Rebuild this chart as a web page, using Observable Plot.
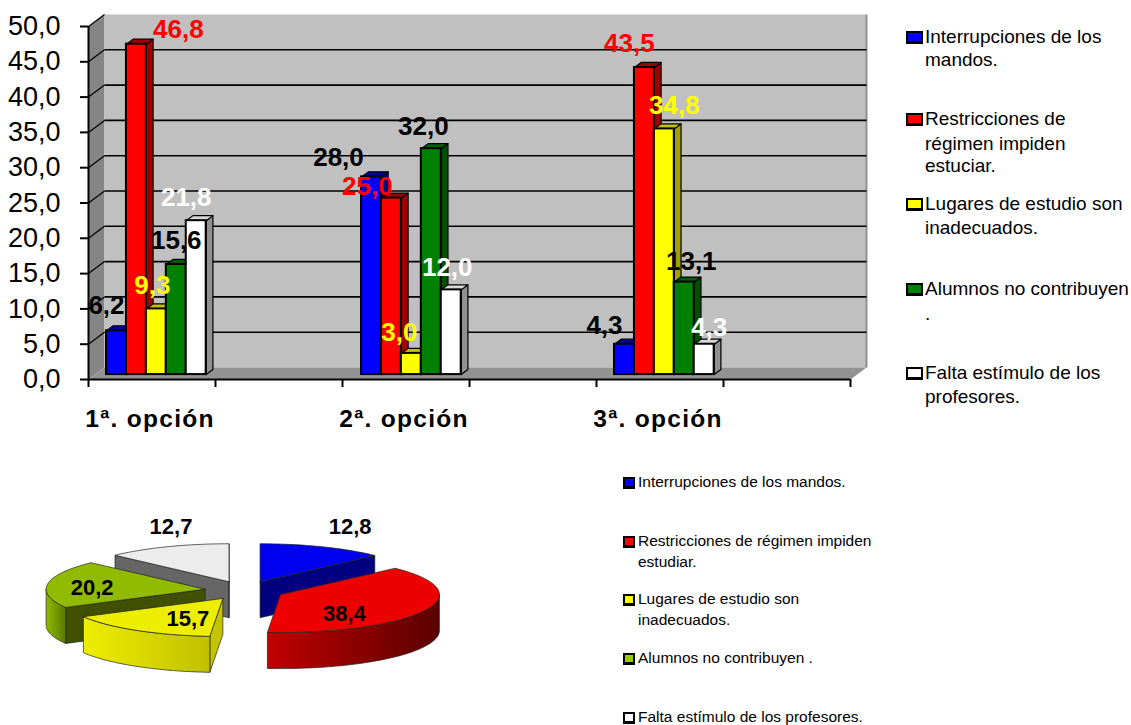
<!DOCTYPE html>
<html><head><meta charset="utf-8">
<script src="https://cdn.jsdelivr.net/npm/d3@7"></script>
<script src="https://cdn.jsdelivr.net/npm/@observablehq/plot@0.6"></script>
<style>
html,body{margin:0;padding:0;background:#fff;overflow:hidden}
#page{position:relative;width:1131px;height:725px;font-family:"Liberation Sans",Arial,sans-serif;color:#000}
#page svg{display:block}
.lg{position:absolute;white-space:nowrap;line-height:1}
.sw{position:absolute;box-sizing:border-box;border:2px solid #000;border-bottom-width:3px}
</style></head><body><div id="page"></div>
<script>
// ---------- data ----------
const categories = ["1ª. opción", "2ª. opción", "3ª. opción"];
const seriesNames = ["Interrupciones de los mandos.", "Restricciones de régimen impiden estudiar.", "Lugares de estudio son inadecuados.", "Alumnos no contribuyen .", "Falta estímulo de los profesores."];
const interrupciones = [6.2, 28.0, 4.3];
const restricciones = [46.8, 25.0, 43.5];
const lugares = [9.3, 3.0, 34.8];
const alumnos = [15.6, 32.0, 13.1];
const falta = [21.8, 12.0, 4.3];
const pieValues = [12.8, 38.4, 15.7, 20.2, 12.7];
const yTicks = [0, 5, 10, 15, 20, 25, 30, 35, 40, 45, 50];

// ---------- layout and style ----------
const barSeries = [interrupciones, restricciones, lugares, alumnos, falta];
const barFront = ["#0000ff", "#ff0000", "#ffff00", "#008000", "#ffffff"];
const barSide = ["#000080", "#a00000", "#a0a000", "#005000", "#909090"];
const barTop = ["#0000a0", "#a00000", "#c0c000", "#006000", "#d8d8d8"];
const labelColor = ["#000", "#ff0000", "#ffff00", "#000", "#fff"];
const labelDx = [[-10,-33,-20],[42,-24,-15],[-4,-12,10],[0,-8,7],[-10,-4,5]];
const labelDy = [[-25,-19,-19],[-14,-11,-24],[-23,-21,-23],[-24,-22,-20],[-23,-22,-17]];
const groupSlots = [0.09, 2.098, 4.09];
const slotLabels = [0.5, 2.5, 4.5];
const barW = 0.157, depthX = 0.126, depthY = 1.7, z0 = 0.41, z1 = 0.83, slots = 6;
const comma = v => v.toFixed(1).replace(".", ",");
const px = (p, z) => p + z * depthX, py = (v, z) => v + z * depthY;

function poly(id, fill, pts) {
  return [...pts, pts[0]].map(([x, y]) => ({id, fill, x, y}));
}
const lineOpts = {x: "x", y: "y", z: "id", fill: "fill"};

const walls = [
  ...poly("side", "#858585", [[0,0],[px(0,1),py(0,1)],[px(0,1),py(50,1)],[0,50]]),
  ...poly("back", "#c0c0c0", [[px(0,1),py(0,1)],[px(slots,1),py(0,1)],[px(slots,1),py(50,1)],[px(0,1),py(50,1)]]),
  ...poly("floor", "#929292", [[0,0],[px(0,1),py(0,1)],[px(slots,1),py(0,1)],[slots,0]])
];

const barMarks = [];
barSeries.forEach((vals, j) => {
  const rows = vals.map((v, i) => ({v, left: groupSlots[i] + j * barW}));
  const faces = rows.flatMap((r, i) => {
    const a = r.left, b = r.left + barW;
    return [
      ...poly(`s${i}`, barSide[j], [[px(b,z0),py(0,z0)],[px(b,z1),py(0,z1)],[px(b,z1),py(r.v,z1)],[px(b,z0),py(r.v,z0)]]),
      ...poly(`t${i}`, barTop[j], [[px(a,z0),py(r.v,z0)],[px(b,z0),py(r.v,z0)],[px(b,z1),py(r.v,z1)],[px(a,z1),py(r.v,z1)]])
    ];
  });
  barMarks.push(
    Plot.line(faces, {...lineOpts, stroke: "#000", strokeWidth: 1.2}),
    Plot.rect(rows, {x1: r => px(r.left, z0), x2: r => px(r.left + barW, z0), y1: () => py(0, z0), y2: r => py(r.v, z0), fill: barFront[j], stroke: "#000", strokeWidth: 2})
  );
});

const valueLabels = barSeries.flatMap((vals, j) => vals.map((v, i) => ({
  x: px(groupSlots[i] + (j + 0.5) * barW, z0), y: py(v, z0), text: comma(v), fill: labelColor[j], dx: labelDx[j][i], dy: labelDy[j][i]
})));

function shifted(rows, next, index, scales, values, dims, ctx) {
  const g = next(index, scales, values, dims, ctx);
  d3.select(g).selectAll("text").attr("transform", function (_, k) {
    const t = this.getAttribute("transform") || "";
    const d = rows[index[k]];
    return `${t} translate(${d.dx},${d.dy})`;
  });
  return g;
}

const barChart = Plot.plot({
  width: 1131, height: 445, marginLeft: 88, marginRight: 281, marginTop: 26, marginBottom: 66,
  x: {domain: [0, slots], axis: null}, y: {domain: [0, 50], axis: null}, color: {type: "identity"},
  style: {fontFamily: '"Liberation Sans",Arial,sans-serif', color: "#000", background: "transparent"},
  marks: [
    Plot.line(walls, lineOpts),
    Plot.link([slots], {x1: d => px(d, 1), x2: d => px(d, 1), y1: () => py(0, 1), y2: () => py(50, 1), stroke: "#909090", strokeWidth: 2}),
    Plot.link(yTicks.slice(1, -1), {x1: () => px(0, 1), x2: () => px(slots, 1), y1: d => py(d, 1), y2: d => py(d, 1), stroke: "#000", strokeWidth: 1.6}),
    Plot.link(yTicks.slice(1), {x1: () => 0, x2: () => px(0, 1), y1: d => d, y2: d => py(d, 1), stroke: "#000", strokeWidth: 1.2}),
    ...barMarks,
    Plot.ruleX([0], {y1: 0, y2: 50, stroke: "#000", strokeWidth: 2}),
    Plot.ruleY([0], {x1: 0, x2: slots, stroke: "#000", strokeWidth: 2}),
    Plot.axisY({ticks: yTicks, tickFormat: comma, tickSize: 8, tickPadding: 20, fontSize: 27, strokeWidth: 2, label: null}),
    Plot.axisX({ticks: d3.range(slots + 1), tickFormat: () => "", tickSize: 8, strokeWidth: 2, label: null}),
    Plot.axisX({ticks: slotLabels, tickFormat: (d, i) => categories[i], tickSize: 0, tickPadding: 30, fontSize: 24.5, fontWeight: "bold", label: null, dx: -2}),
    Plot.text(valueLabels, {x: "x", y: "y", text: "text", fill: "fill", fontSize: 26, fontWeight: "bold", lineAnchor: "middle",
      render(index, scales, values, dims, ctx, next) { return shifted(valueLabels, next, index, scales, values, dims, ctx); }})
  ]
});
d3.select(barChart).selectAll('g[font-size="24.5"]').style("letter-spacing", "1.3px");

// ---------- pie ----------
const pieTop = ["#0000f0", "#ee0000", "#eeee00", "#90bb00", "#ececec"];
const pieCut = ["#000080", "#800000", "#c4c400", "#405000", "#666666"];
const pieWall = ["#000080", "url(#wallRed)", "url(#wallYellow)", "url(#wallGreen)", "#666666"];
const pieLabelDx = [90, 64, -35, -113, -58];
const pieLabelDy = [-55, 19, 20, -1, -55];
// which radial cut faces are seen: [start edge, end edge]
const cutVisible = [[false, true], [false, false], [true, false], [true, false], [true, true]];
const explode = 0.25, pieDepth = 0.947;
const total = d3.sum(pieValues);
const cum = d3.cumsum(pieValues).map(c => c / total * 2 * Math.PI);
const pt = (cx, cy, t, dz = 0) => [cx + Math.sin(t), cy - Math.cos(t) + dz];
const pieRows = [], pieApex = [];
pieValues.forEach((v, i) => {
  const a = i ? cum[i - 1] : 0, b = cum[i], m = (a + b) / 2;
  pieApex.push([explode * Math.sin(m), -explode * Math.cos(m)]);
});
const arcPts = (cx, cy, a, b, dz = 0) => {
  const n = Math.max(2, Math.ceil((b - a) / 0.03));
  return d3.range(n + 1).map(k => pt(cx, cy, a + (b - a) * k / n, dz));
};
[4, 3, 2, 0, 1].forEach(i => {
  const a = i ? cum[i - 1] : 0, b = cum[i], [cx, cy] = pieApex[i];
  const ext = (t, key) => {
    const p = pt(cx, cy, t);
    pieRows.push(...poly(`cut${i}${key}`, pieCut[i], [[cx, cy], p, [p[0], p[1] + pieDepth], [cx, cy + pieDepth]]));
  };
  if (cutVisible[i][0]) ext(a, "a");
  if (cutVisible[i][1]) ext(b, "b");
  const lo = Math.max(a, Math.PI / 2), hi = Math.min(b, 3 * Math.PI / 2);
  if (hi > lo) {
    const top = arcPts(cx, cy, lo, hi), bot = arcPts(cx, cy, lo, hi, pieDepth).reverse();
    pieRows.push(...poly(`wall${i}`, pieWall[i], [...top, ...bot]));
  }
  pieRows.push(...poly(`top${i}`, pieTop[i], [[cx, cy], ...arcPts(cx, cy, a, b)]));
});
const pieLabels = pieValues.map((v, i) => ({x: pieApex[i][0], y: pieApex[i][1], text: comma(v), dx: pieLabelDx[i], dy: pieLabelDy[i]}));

function grad(defs, id, c0, c1) {
  const g = defs.append("linearGradient").attr("id", id).attr("x1", 0).attr("x2", 1).attr("y1", 0).attr("y2", 0);
  g.append("stop").attr("offset", "0%").attr("stop-color", c0);
  g.append("stop").attr("offset", "100%").attr("stop-color", c1);
}
const pieChart = Plot.plot({
  width: 1131, height: 280, marginLeft: 85, marginRight: 728, marginTop: 107, marginBottom: 97,
  x: {domain: [-1, 1], axis: null}, y: {domain: [-1, 1], reverse: true, axis: null}, color: {type: "identity"},
  style: {fontFamily: '"Liberation Sans",Arial,sans-serif', color: "#000", background: "transparent"},
  marks: [
    () => {
      const defs = d3.create("svg:defs");
      grad(defs, "wallRed", "#c00000", "#5a0000");
      grad(defs, "wallYellow", "#eeee00", "#c0c000");
      grad(defs, "wallGreen", "#90bb00", "#5a7800");
      return defs.node();
    },
    Plot.line(pieRows, {...lineOpts, stroke: "#222", strokeWidth: 0.7, curve: "linear"}),
    Plot.text(pieLabels, {x: "x", y: "y", text: "text", fontSize: 22, fontWeight: "bold", lineAnchor: "middle",
      render(index, scales, values, dims, ctx, next) { return shifted(pieLabels, next, index, scales, values, dims, ctx); }})
  ]
});

// ---------- legends ----------
const page = document.getElementById("page");
page.append(barChart, pieChart);
const topLegendLines = [["Interrupciones de los", "mandos."], ["Restricciones de", "régimen impiden", "estuciar."], ["Lugares de estudio son", "inadecuados."], ["Alumnos no contribuyen", "."], ["Falta estímulo de los", "profesores."]];
const topLegendY = [[37, 60], [119, 144, 166], [204, 228], [289, 314], [373, 397]];
const topSwatchColor = ["#0000ff", "#ff0000", "#ffff00", "#008000", "#ffffff"];
const lowLegendLines = [["Interrupciones de los mandos."], ["Restricciones de régimen impiden", "estudiar."], ["Lugares de estudio son", "inadecuados."], ["Alumnos no contribuyen ."], ["Falta estímulo de los profesores."]];
const lowLegendY = [[483], [542, 563], [600, 621], [659], [718]];
const lowSwatchColor = ["#0000ff", "#ff0000", "#ffff00", "#99cc00", "#ffffff"];
function legend(lines, ys, colors, swX, swW, swH, textX, font) {
  lines.forEach((entry, i) => {
    const s = document.createElement("div");
    s.className = "sw";
    s.style.cssText = `left:${swX}px;top:${ys[i][0] - swH / 2}px;width:${swW}px;height:${swH}px;background:${colors[i]}`;
    page.append(s);
    entry.forEach((t, k) => {
      const d = document.createElement("div");
      d.className = "lg";
      d.textContent = t;
      d.style.cssText = `left:${textX}px;top:${ys[i][k] - font / 2 - 1}px;font-size:${font}px`;
      page.append(d);
    });
  });
}
legend(topLegendLines, topLegendY, topSwatchColor, 906, 17, 13, 925, 19);
legend(lowLegendLines, lowLegendY, lowSwatchColor, 623, 12, 12, 638, 15.5);
</script></body></html>
